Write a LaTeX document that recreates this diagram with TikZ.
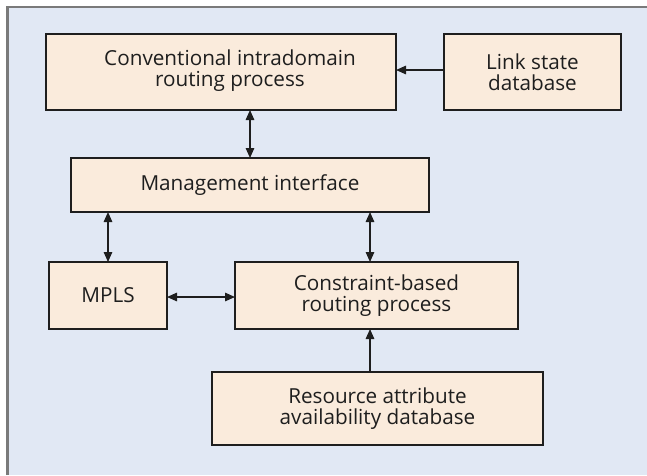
\documentclass[tikz,border=0pt]{standalone}
\usepackage{fontspec}
\setmainfont{Open Sans}
\usetikzlibrary{arrows.meta}
\definecolor{panelbg}{HTML}{E1E8F4}
\definecolor{boxfill}{HTML}{FAEBDC}
\definecolor{framegray}{HTML}{7A7A7A}
\definecolor{ink}{HTML}{1E1E1E}
\tikzset{
  blockbox/.style={draw=ink, fill=boxfill, line width=1.4pt, rectangle,
    inner sep=0pt, outer sep=0pt},
  blocktext/.style={align=center, inner sep=0pt, text=ink,
    font=\fontsize{20.7}{21}\selectfont},
  link/.style={draw=ink, line width=1.4pt,
    -{Triangle[length=10pt,width=8.5pt]}},
  dlink/.style={draw=ink, line width=1.4pt,
    {Triangle[length=10pt,width=8.5pt]}-{Triangle[length=10pt,width=8.5pt]}}
}
\begin{document}
\begin{tikzpicture}[x=1pt,y=-1pt]
  \useasboundingbox (0,0) rectangle (647,475);
  % panel background with frame on the top and left sides
  \fill[panelbg] (7.5,7) rectangle (647,475);
  \draw[framegray, line width=2.5pt] (7.5,475) -- (7.5,7) -- (647,7);

  % blocks
  \node[blockbox, minimum width=350pt, minimum height=76pt] (conv) at (221,72) {};
  \node[blocktext] (convtext) at (230,71) {Conventional intradomain\\routing process};
  \node[blockbox, minimum width=177pt, minimum height=76pt] (lsdb) at (532.5,72)
    [blocktext] {Link state\\database};
  \node[blockbox, minimum width=358pt, minimum height=54pt] (mgmt) at (250,185)
    [blocktext] {Management interface};
  \node[blockbox, minimum width=118pt, minimum height=67pt] (mpls) at (108,295.5)
    [blocktext] {MPLS};
  \node[blockbox, minimum width=283pt, minimum height=67pt] (cbr) at (376.5,295.5)
    [blocktext] {Constraint-based\\routing process};
  \node[blockbox, minimum width=331pt, minimum height=73pt] (rad) at (377.5,408.5)
    [blocktext] {Resource attribute\\availability database};

  % connectors
  \draw[link] ([yshift=2pt]lsdb.west) -- ([yshift=2pt]conv.east);
  \draw[dlink] (mgmt.north |- conv.south) -- (mgmt.north);
  \draw[dlink] (mpls.north |- mgmt.south) -- (mpls.north);
  \draw[dlink] ([xshift=-6.5pt]cbr.north |- mgmt.south) -- ([xshift=-6.5pt]cbr.north);
  \draw[dlink] ([yshift=-1.5pt]mpls.east) -- ([yshift=-1.5pt]cbr.west);
  \draw[link] ([xshift=-7.5pt]rad.north) -- ([xshift=-6.5pt]cbr.south);
\end{tikzpicture}
\end{document}
